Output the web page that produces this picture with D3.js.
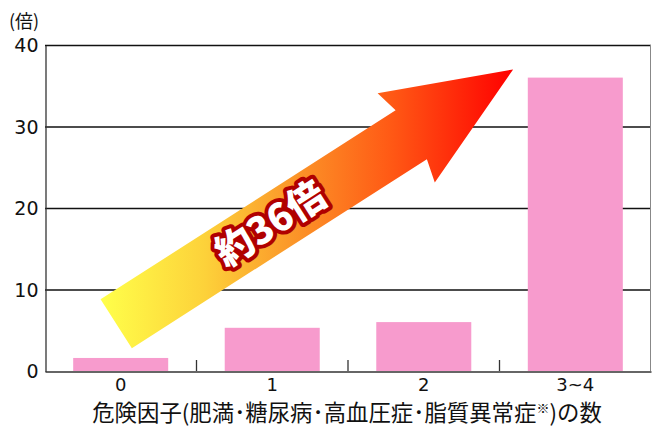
<!DOCTYPE html>
<html>
<head>
<meta charset="utf-8">
<script src="https://cdn.jsdelivr.net/npm/d3@7"></script>
<style>
  body { margin: 0; background: #fff; }
</style>
</head>
<body>
<div id="chart"></div>
<script>
// data
const categories = ["0", "1", "2", "3~4"];
const values = [1.6, 5.3, 6.0, 36];
const yTicks = [0, 10, 20, 30, 40];
const yUnit = "(倍)";
const xTitle = "危険因子(肥満･糖尿病･高血圧症･脂質異常症";
const xTitleNote = "※";
const xTitleEnd = ")の数";
const arrowLabel = "約36倍";
// arrow from/to in (category position, value)
const arrowFrom = { pos: 0.47, value: 5.8 };
const arrowTo = { pos: 3.09, value: 37.0 };

const size = { width: 652, height: 427 };
const margin = { top: 45, right: 1, bottom: 56, left: 45 };
const jpFont = "'Noto Sans CJK JP', 'Noto Sans', sans-serif";
const digitFont = "'DejaVu Sans', sans-serif";

const svg = d3.select("#chart")
  .append("svg")
  .attr("width", size.width)
  .attr("height", size.height);

const x = d3.scaleBand()
  .domain(categories)
  .range([margin.left, size.width - margin.right])
  .paddingInner(0.373)
  .paddingOuter(0.186);

// continuous version of the category axis for the arrow
const xPos = d3.scaleLinear()
  .domain([0, categories.length])
  .range([margin.left, size.width - margin.right]);

const y = d3.scaleLinear()
  .domain([0, 40])
  .range([size.height - margin.bottom, margin.top]);

const x0 = margin.left, x1 = size.width - margin.right;

// gridlines
svg.selectAll(".grid")
  .data(yTicks.filter(d => d > 0))
  .enter().append("line")
  .attr("class", "grid")
  .attr("x1", x0).attr("x2", x1)
  .attr("y1", d => y(d) + 0.5).attr("y2", d => y(d) + 0.5)
  .attr("stroke", "#111")
  .attr("stroke-width", 1.3);

// right border
svg.append("line")
  .attr("x1", x1 - 0.5).attr("x2", x1 - 0.5)
  .attr("y1", y(40)).attr("y2", y(0))
  .attr("stroke", "#888");

// bars
svg.selectAll(".bar")
  .data(values)
  .enter().append("rect")
  .attr("class", "bar")
  .attr("x", (d, i) => x(categories[i]))
  .attr("y", d => y(d))
  .attr("width", x.bandwidth())
  .attr("height", d => y(0) - y(d))
  .attr("fill", "#f79bcd");

// y axis
const yAxis = svg.append("g")
  .attr("transform", `translate(${x0 + 0.5},0.5)`)
  .call(d3.axisLeft(y).tickValues(yTicks).tickSize(0).tickPadding(7));
yAxis.attr("font-family", null).attr("font-size", null);
yAxis.select(".domain").attr("stroke", "#333").attr("stroke-width", 1.3);
yAxis.selectAll("text")
  .style("font-family", digitFont)
  .style("font-size", "19px")
  .attr("fill", "#111");

// x axis
const xAxis = svg.append("g")
  .attr("transform", `translate(0,${y(0) + 0.5})`)
  .call(d3.axisBottom(x).tickSize(0).tickPadding(7));
xAxis.attr("font-family", null).attr("font-size", null);
xAxis.select(".domain").attr("stroke", "#333").attr("stroke-width", 1.3);
xAxis.selectAll("text")
  .style("font-family", digitFont)
  .style("font-size", "18px")
  .attr("fill", "#111");

// ticks between categories, pointing up
svg.selectAll(".xtick")
  .data(d3.range(1, categories.length))
  .enter().append("line")
  .attr("class", "xtick")
  .attr("x1", d => xPos(d)).attr("x2", d => xPos(d))
  .attr("y1", y(0)).attr("y2", y(0) - 11)
  .attr("stroke", "#333").attr("stroke-width", 1.3);

// unit label
svg.append("text")
  .attr("x", 24).attr("y", 28)
  .attr("text-anchor", "middle")
  .style("font-family", jpFont)
  .style("font-size", "18px")
  .attr("fill", "#111")
  .text(yUnit);

// x title
const title = svg.append("text")
  .attr("x", 347)
  .attr("y", 421)
  .attr("text-anchor", "middle")
  .style("font-family", jpFont)
  .style("font-size", "22.4px")
  .attr("fill", "#111");
title.append("tspan").text(xTitle);
title.append("tspan").style("font-size", "13px").attr("dy", -8).text(xTitleNote);
title.append("tspan").attr("dy", 8).text(xTitleEnd);

// arrow
const ax0 = xPos(arrowFrom.pos), ay0 = y(arrowFrom.value);
const ax1 = xPos(arrowTo.pos), ay1 = y(arrowTo.value);
const len = Math.hypot(ax1 - ax0, ay1 - ay0);
const angle = Math.atan2(ay1 - ay0, ax1 - ax0) * 180 / Math.PI;
const shaftHalf = 29, headHalf = 53, headLen = 121;

const defs = svg.append("defs");
const grad = defs.append("linearGradient")
  .attr("id", "arrowGrad")
  .attr("gradientUnits", "userSpaceOnUse")
  .attr("x1", ax0 - 15).attr("y1", 0)
  .attr("x2", ax1).attr("y2", 0);
grad.append("stop").attr("offset", "0%").attr("stop-color", "#ffff4a");
grad.append("stop").attr("offset", "25%").attr("stop-color", "#fdd23a");
grad.append("stop").attr("offset", "45%").attr("stop-color", "#fb9a2a");
grad.append("stop").attr("offset", "70%").attr("stop-color", "#ff5a15");
grad.append("stop").attr("offset", "100%").attr("stop-color", "#ff0000");

const rad = angle * Math.PI / 180;
const ux = Math.cos(rad), uy = Math.sin(rad);
const nx = -uy, ny = ux;
const pt = (a, b) => [ax0 + ux * a + nx * b, ay0 + uy * a + ny * b];
const hb = len - headLen;
const arrowPts = [
  pt(0, -shaftHalf), pt(hb, -shaftHalf), pt(hb - 6, -headHalf), pt(len, 0),
  pt(hb - 6, headHalf), pt(hb, shaftHalf), pt(0, shaftHalf)
];
svg.append("polygon")
  .attr("points", arrowPts.map(p => p.join(",")).join(" "))
  .attr("fill", "url(#arrowGrad)");

const lp = pt(len * 0.39, -1);
svg.append("text")
  .attr("transform", `translate(${lp[0]},${lp[1]}) rotate(${angle})`)
  .attr("text-anchor", "middle")
  .attr("dy", "0.36em")
  .style("font-family", jpFont)
  .style("font-size", "38px")
  .style("font-weight", 900)
  .attr("fill", "#fff")
  .attr("stroke", "#b00000")
  .attr("stroke-width", 8)
  .attr("stroke-linejoin", "round")
  .attr("paint-order", "stroke")
  .text(arrowLabel);
</script>
</body>
</html>
